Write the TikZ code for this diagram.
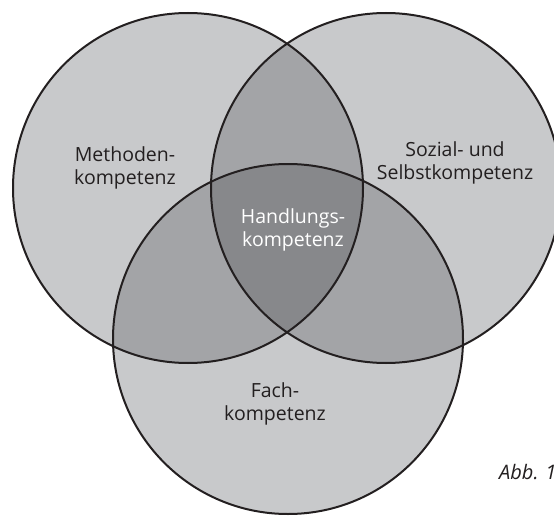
\documentclass[tikz,border=0pt]{standalone}
\usepackage{fontspec}
\setmainfont{Open Sans}
\definecolor{lightfill}{HTML}{C8C9CB}
\definecolor{midfill}{HTML}{A3A4A7}
\definecolor{darkfill}{HTML}{87888B}
\definecolor{ink}{HTML}{231F20}
\begin{document}
\begin{tikzpicture}[x=1pt,y=-1pt,
  setlabel/.style={align=center, font=\fontsize{19.5}{23}\selectfont, text=ink, inner sep=0pt},
  ring/.style={draw=ink, line width=2pt}]
\useasboundingbox (0,0) rectangle (554,516);
\clip (0,0) rectangle (554,516);
% centres of the three sets
\coordinate (L) at (188,188);
\coordinate (R) at (386,188);
\coordinate (B) at (288,339);
\def\rad{175pt}
% single-set areas
\fill[lightfill] (L) circle[radius=\rad];
\fill[lightfill] (R) circle[radius=\rad];
\fill[lightfill] (B) circle[radius=\rad];
% pairwise overlaps
\begin{scope}
  \clip (L) circle[radius=\rad];
  \fill[midfill] (R) circle[radius=\rad];
  \fill[midfill] (B) circle[radius=\rad];
\end{scope}
\begin{scope}
  \clip (R) circle[radius=\rad];
  \fill[midfill] (B) circle[radius=\rad];
\end{scope}
% triple overlap
\begin{scope}
  \clip (L) circle[radius=\rad];
  \clip (R) circle[radius=\rad];
  \fill[darkfill] (B) circle[radius=\rad];
\end{scope}
% outlines
\draw[ring] (L) circle[radius=\rad];
\draw[ring] (R) circle[radius=\rad];
\draw[ring] (B) circle[radius=\rad];
% labels
\node[setlabel] (methode) at (125,168) {Methoden-\\kompetenz};
\node[setlabel] (sozial) at (455,163) {Sozial- und\\Selbstkompetenz};
\node[setlabel, text=white] (handlung) at (293,230) {Handlungs-\\kompetenz};
\node[setlabel] (fach) at (275,403.5) {Fach-\\kompetenz};
\node[anchor=base west, inner sep=0pt, text=ink, font=\fontsize{20}{24}\selectfont\itshape] (abb) at (499,479) {Abb. 1};
\end{tikzpicture}
\end{document}
